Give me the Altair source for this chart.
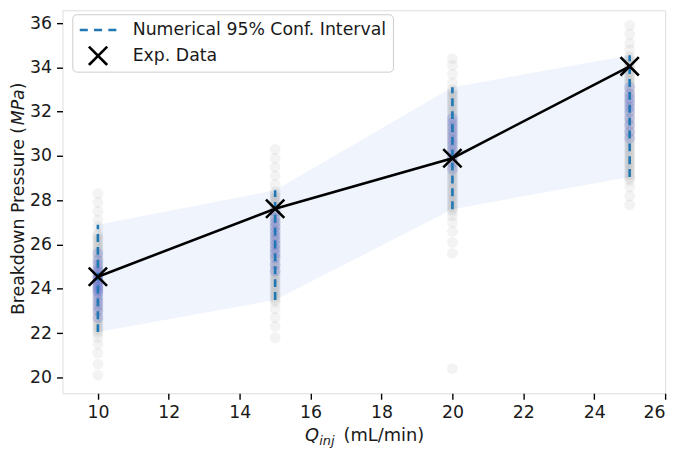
import altair as alt
import pandas as pd

# ---------------- data ----------------
q_exp = [10, 15, 20, 25]
p_exp = [24.55, 27.62, 29.9, 34.05]
ci_lo = [22.05, 23.5, 27.6, 29.05]
ci_hi = [26.9, 28.45, 33.1, 34.55]

# numerical samples (gray cloud) per flow rate
g10 = [20.1, 20.6, 21.1, 21.5, 21.8,
       22.0, 22.1, 22.2, 22.3, 22.4, 22.5, 22.6, 22.7, 22.8, 22.9,
       23.0, 23.1, 23.2, 23.3, 23.4, 23.5, 23.6, 23.7, 23.8, 23.9,
       24.0, 24.1, 24.2, 24.3, 24.4, 24.5, 24.6, 24.7, 24.8, 24.9,
       25.0, 25.1, 25.2, 25.3, 25.4, 25.5, 25.6, 25.7, 25.8, 25.9,
       26.0, 26.1, 26.2, 26.3, 26.4, 26.5,
       26.8, 27.1, 27.5, 27.9, 28.3]
g15 = [21.8, 22.3, 22.7, 23.1, 23.4,
       23.5, 23.6, 23.7, 23.8, 23.9, 24.0, 24.1, 24.2, 24.3, 24.4,
       24.5, 24.6, 24.7, 24.8, 24.9, 25.0, 25.1, 25.2, 25.3, 25.4,
       25.5, 25.6, 25.7, 25.8, 25.9, 26.0, 26.1, 26.2, 26.3, 26.4,
       26.5, 26.6, 26.7, 26.8, 26.9, 27.0, 27.1, 27.2, 27.3, 27.4,
       27.5, 27.6, 27.7, 27.8, 27.9, 28.0, 28.1, 28.2, 28.3, 28.4,
       28.7, 29.1, 29.5, 29.9, 30.3]
g20 = [20.4, 25.6, 26.1, 26.6, 27.0, 27.3,
       27.5, 27.6, 27.7, 27.8, 27.9, 28.0, 28.1, 28.2, 28.3, 28.4,
       28.5, 28.6, 28.7, 28.8, 28.9, 29.0, 29.1, 29.2, 29.3, 29.4,
       29.5, 29.6, 29.7, 29.8, 29.9, 30.0, 30.1, 30.2, 30.3, 30.4,
       30.5, 30.6, 30.7, 30.8, 30.9, 31.0, 31.1, 31.2, 31.3, 31.4,
       31.5, 31.6, 31.7, 31.8, 31.9, 32.0, 32.1, 32.2, 32.3, 32.4,
       32.5, 32.6, 32.7, 32.8, 32.9, 33.0,
       33.3, 33.7, 34.1, 34.4]
g25 = [27.8, 28.2, 28.6, 28.9,
       29.0, 29.1, 29.2, 29.3, 29.4, 29.5, 29.6, 29.7, 29.8, 29.9,
       30.0, 30.1, 30.2, 30.3, 30.4, 30.5, 30.6, 30.7, 30.8, 30.9,
       31.0, 31.1, 31.2, 31.3, 31.4, 31.5, 31.6, 31.7, 31.8, 31.9,
       32.0, 32.1, 32.2, 32.3, 32.4, 32.5, 32.6, 32.7, 32.8, 32.9,
       33.0, 33.1, 33.2, 33.3, 33.4, 33.5, 33.6, 33.7, 33.8, 33.9,
       34.0, 34.1, 34.2, 34.3, 34.4, 34.5,
       34.8, 35.1, 35.5, 35.9]

# selected samples (blue cloud) per flow rate
b10 = [22.7, 23.0, 23.2, 23.4, 23.6, 23.8, 23.9, 24.0, 24.1, 24.2, 24.3, 24.4, 24.5, 24.6,
       24.7, 24.8, 24.9, 25.1, 25.3, 25.6]
b15 = [24.8, 25.1, 25.4, 25.6, 25.8, 26.0, 26.2, 26.4, 26.6, 26.8, 27.0, 27.2, 27.5]
b20 = [29.4, 29.7, 29.9, 30.1, 30.3, 30.5, 30.7, 30.9, 31.1, 31.3, 31.5, 31.7]
b25 = [30.8, 31.1, 31.4, 31.7, 32.0, 32.2, 32.4, 32.6, 32.8, 33.1]

x_ticks = [10, 12, 14, 16, 18, 20, 22, 24, 26]
y_ticks = [20, 22, 24, 26, 28, 30, 32, 34, 36]
legend_labels = ["Numerical 95% Conf. Interval", "Exp. Data"]

# ---------------- tables ----------------
exp_df = pd.DataFrame({"Q": q_exp, "P": p_exp, "series": "Exp. Data"})
ci_df = pd.DataFrame({"Q": q_exp, "lo": ci_lo, "hi": ci_hi})


def cloud(groups):
    rows = []
    for q, vals in zip(q_exp, groups):
        rows += [{"Q": q, "P": v} for v in vals]
    return pd.DataFrame(rows)


gray_df = cloud([g10, g15, g20, g25])
blue_df = cloud([b10, b15, b20, b25])

# ---------------- scales / axes ----------------
FONT = "DejaVu Sans"
FS = 17.5
TXT = "#1a1a1a"
W, H = 609, 387

xsc = alt.Scale(domain=[9, 26], nice=False, zero=False)
ysc = alt.Scale(domain=[19.285, 36.58], nice=False, zero=False)
xax = alt.Axis(values=x_ticks, title=None, grid=False, domain=False, tickSize=6,
               tickWidth=1.4, tickColor="black", labelPadding=4, labelFontSize=FS,
               labelColor=TXT, labelFont=FONT)
yax = alt.Axis(values=y_ticks, title=None, grid=False, domain=False, tickSize=6,
               tickWidth=1.4, tickColor="black", labelPadding=5, labelFontSize=FS,
               labelColor=TXT, labelFont=FONT)

X = alt.X("Q:Q", scale=xsc, axis=xax)

band = alt.Chart(ci_df).mark_area(color="#6495ED", opacity=0.1).encode(
    x=X, y=alt.Y("lo:Q", scale=ysc, axis=yax), y2="hi:Q")

gray = alt.Chart(gray_df).mark_circle(color="#7f7f7f", opacity=0.09, size=120).encode(
    x="Q:Q", y="P:Q")
blue = alt.Chart(blue_df).mark_circle(color="#4a5bd4", opacity=0.18, size=120).encode(
    x="Q:Q", y="P:Q")

rules = alt.Chart(ci_df).mark_rule(color="#1f77b4", strokeWidth=2.6,
                                   strokeDash=[8, 5]).encode(x="Q:Q", y="lo:Q", y2="hi:Q")

line = alt.Chart(exp_df).mark_line(color="black", strokeWidth=2.6).encode(x="Q:Q", y="P:Q")

dash_path = "M-1,0L-0.56,0M-0.22,0L0.22,0M0.56,0L1,0"
x_path = "M-0.5,-0.5L0.5,0.5M-0.5,0.5L0.5,-0.5"

leg = alt.Legend(title=None, orient="none", legendX=10, legendY=4, fillColor="white",
                 strokeColor="#cccccc", cornerRadius=4, padding=6, labelFontSize=FS,
                 labelFont=FONT, labelColor=TXT, labelOffset=15, labelLimit=500,
                 symbolSize=1369, symbolStrokeWidth=2.6, clipHeight=20, rowPadding=6)

marks = alt.Chart(exp_df).mark_point(filled=False, strokeWidth=2.6, size=1369, opacity=1).encode(
    x="Q:Q", y="P:Q",
    color=alt.Color("series:N", scale=alt.Scale(domain=legend_labels, range=["#1f77b4", "black"]),
                    legend=leg),
    shape=alt.Shape("series:N", scale=alt.Scale(domain=legend_labels, range=[dash_path, x_path]),
                    legend=leg))


def label(txt, x, y, size=FS, style="normal", angle=0, baseline="alphabetic"):
    return alt.Chart(pd.DataFrame({"t": [txt]})).mark_text(
        font=FONT, fontSize=size, fontStyle=style, color=TXT, align="left",
        baseline=baseline, angle=angle).encode(text="t:N", x=alt.value(x), y=alt.value(y))


# x-axis title: Q_inj (mL/min)
xt1 = label("Q", 245, 435, size=18, style="italic")
xt2 = label("inj", 259.5, 439, size=13, style="italic")
xt3 = label("(mL/min)", 284, 435, size=18)
# y-axis title: Breakdown Pressure (MPa)
yt1 = label("Breakdown Pressure (", -44, 308, angle=270, baseline="middle")
yt2 = label("MPa", -44, 116.2, style="italic", angle=270, baseline="middle")
yt3 = label(")", -44, 79.8, angle=270, baseline="middle")

chart = alt.layer(band, gray, blue, rules, line, marks, xt1, xt2, xt3, yt1, yt2, yt3).properties(
    width=W, height=H,
    autosize=alt.AutoSizeParams(type="none"),
    padding={"left": 55, "top": 0, "right": 12, "bottom": 55},
).configure_view(stroke="black", strokeWidth=1.4).configure(font=FONT)

chart.save("out.html", embed_options={"renderer": "svg", "actions": False})
